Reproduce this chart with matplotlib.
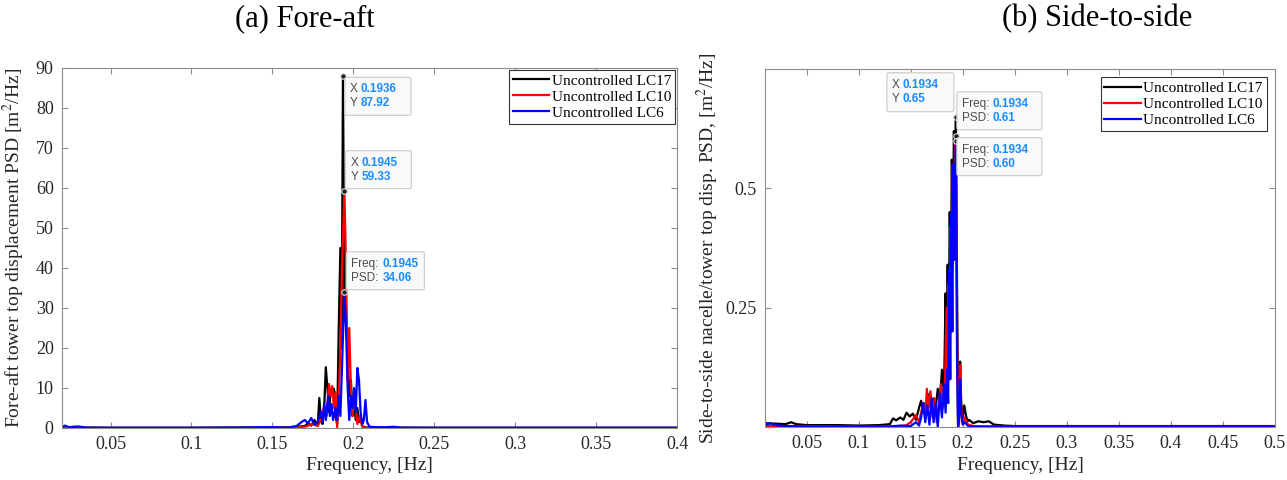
import matplotlib.pyplot as plt
from matplotlib.patches import FancyBboxPatch
from matplotlib.transforms import IdentityTransform

plt.rcParams['font.family'] = ['Liberation Serif', 'DejaVu Serif']
plt.rcParams['mathtext.fontset'] = 'stix'

# ---- (a) fore-aft tower top displacement PSD ----
fa_f17 = [0.020, 0.025, 0.030, 0.050, 0.100, 0.150, 0.160, 0.165, 0.170, 0.172, 0.174,
          0.176, 0.178, 0.179, 0.180, 0.181, 0.182, 0.183, 0.184, 0.185, 0.186, 0.187,
          0.188, 0.189, 0.190, 0.191, 0.192, 0.1928, 0.1936, 0.1945, 0.1955, 0.1965,
          0.1975, 0.1985, 0.1995, 0.2005, 0.2015, 0.2025, 0.2035, 0.2045, 0.2055, 0.2065,
          0.208, 0.210, 0.220, 0.250, 0.300, 0.350, 0.400]
fa_p17 = [0.2, 0.1, 0.1, 0.05, 0.05, 0.1, 0.2, 0.3, 0.5, 1.2, 0.6,
          2.0, 0.5, 7.5, 2.0, 1.0, 5.0, 15.2, 10.0, 4.0, 9.5, 9.0,
          9.8, 3.0, 1.0, 25.0, 45.0, 20.0, 87.92, 32.0, 30.0, 18.0,
          8.0, 12.0, 3.0, 6.0, 2.0, 5.0, 1.5, 3.0, 0.5, 0.3,
          0.1, 0.05, 0.05, 0.05, 0.05, 0.05, 0.05]

fa_f10 = [0.020, 0.050, 0.100, 0.150, 0.170, 0.175, 0.178, 0.180, 0.182, 0.1835, 0.185,
          0.186, 0.187, 0.188, 0.189, 0.190, 0.191, 0.192, 0.193, 0.1945, 0.1955, 0.1965,
          0.1975, 0.1985, 0.1995, 0.2005, 0.2015, 0.2025, 0.204, 0.2055, 0.207, 0.220,
          0.300, 0.400]
fa_p10 = [0.05, 0.05, 0.05, 0.05, 0.3, 1.0, 0.5, 2.0, 5.5, 3.0, 11.0,
          8.0, 10.5, 5.0, 9.0, 0.2, 8.0, 20.0, 40.0, 59.33, 40.0, 12.0,
          25.0, 10.0, 3.0, 8.0, 5.0, 1.0, 3.0, 0.3, 0.1, 0.05,
          0.05, 0.05]

fa_f6 = [0.020, 0.022, 0.024, 0.027, 0.030, 0.035, 0.050, 0.100, 0.150, 0.160, 0.165,
         0.168, 0.170, 0.172, 0.174, 0.176, 0.178, 0.180, 0.181, 0.182, 0.183, 0.1845,
         0.1855, 0.1865, 0.1875, 0.189, 0.190, 0.191, 0.192, 0.193, 0.1945, 0.1955,
         0.1965, 0.1975, 0.1985, 0.1995, 0.2005, 0.2015, 0.2025, 0.2035, 0.2045, 0.2055,
         0.2065, 0.2075, 0.2085, 0.210, 0.215, 0.220, 0.225, 0.230, 0.250, 0.400]
fa_p6 = [0.3, 0.6, 0.2, 0.3, 0.4, 0.1, 0.05, 0.05, 0.2, 0.1, 0.5,
         1.5, 2.0, 1.2, 2.5, 0.8, 1.5, 4.0, 1.5, 6.0, 2.0, 8.0,
         3.0, 6.0, 2.0, 5.0, 2.0, 8.0, 3.0, 15.0, 34.06, 25.0,
         10.0, 2.0, 8.0, 5.0, 10.0, 4.0, 15.0, 12.0, 4.0, 1.0,
         2.0, 7.0, 1.5, 0.3, 0.2, 0.2, 0.3, 0.1, 0.05, 0.05]

# ---- (b) side-to-side nacelle/tower top displacement PSD ----
ss_f17 = [0.010, 0.020, 0.030, 0.035, 0.040, 0.050, 0.080, 0.100, 0.120, 0.130, 0.133,
          0.136, 0.140, 0.143, 0.146, 0.149, 0.152, 0.155, 0.158, 0.160, 0.162, 0.164,
          0.166, 0.168, 0.170, 0.172, 0.174, 0.176, 0.178, 0.180, 0.182, 0.1835, 0.1845,
          0.1855, 0.1865, 0.1875, 0.1885, 0.1895, 0.1905, 0.1915, 0.1925, 0.1934, 0.1945,
          0.1955, 0.1965, 0.1975, 0.1985, 0.200, 0.2015, 0.203, 0.2045, 0.206, 0.210,
          0.215, 0.220, 0.225, 0.230, 0.240, 0.250, 0.300, 0.400, 0.500]
ss_p17 = [0.008, 0.007, 0.006, 0.010, 0.006, 0.004, 0.004, 0.003, 0.004, 0.006, 0.018,
          0.014, 0.020, 0.015, 0.030, 0.022, 0.028, 0.015, 0.040, 0.055, 0.030, 0.050,
          0.040, 0.070, 0.030, 0.060, 0.040, 0.080, 0.050, 0.120, 0.070, 0.280, 0.150,
          0.340, 0.200, 0.450, 0.300, 0.560, 0.400, 0.620, 0.500, 0.650, 0.300,
          0.010, 0.020, 0.137, 0.050, 0.020, 0.045, 0.025, 0.012, 0.015, 0.008,
          0.012, 0.010, 0.012, 0.005, 0.003, 0.002, 0.002, 0.002, 0.002]

ss_f10 = [0.010, 0.050, 0.100, 0.130, 0.140, 0.145, 0.150, 0.155, 0.158, 0.160, 0.162,
          0.164, 0.1655, 0.167, 0.169, 0.171, 0.173, 0.175, 0.177, 0.179, 0.181, 0.183,
          0.1845, 0.1855, 0.1865, 0.1875, 0.1885, 0.1895, 0.1905, 0.1915, 0.1925, 0.1934,
          0.1945, 0.1955, 0.1965, 0.1975, 0.1985, 0.200, 0.202, 0.205, 0.210, 0.220,
          0.250, 0.500]
ss_p10 = [0.002, 0.002, 0.001, 0.001, 0.002, 0.003, 0.010, 0.025, 0.010, 0.030, 0.050,
          0.020, 0.080, 0.040, 0.075, 0.020, 0.060, 0.010, 0.050, 0.090, 0.040, 0.100,
          0.250, 0.120, 0.300, 0.180, 0.420, 0.250, 0.550, 0.350, 0.580, 0.610,
          0.200, 0.000, 0.010, 0.130, 0.040, 0.010, 0.020, 0.005, 0.002, 0.001,
          0.001, 0.001]

ss_f6 = [0.010, 0.012, 0.015, 0.020, 0.030, 0.050, 0.100, 0.130, 0.140, 0.150, 0.155,
         0.158, 0.160, 0.162, 0.164, 0.166, 0.168, 0.170, 0.172, 0.174, 0.176, 0.178,
         0.180, 0.182, 0.1835, 0.185, 0.186, 0.187, 0.188, 0.189, 0.190, 0.191, 0.192,
         0.1934, 0.1945, 0.1955, 0.1965, 0.1975, 0.1985, 0.200, 0.202, 0.205, 0.210,
         0.220, 0.250, 0.500]
ss_p6 = [0.010, 0.005, 0.008, 0.004, 0.002, 0.001, 0.001, 0.001, 0.003, 0.002, 0.010,
         0.003, 0.020, 0.050, 0.010, 0.045, 0.005, 0.060, 0.010, 0.050, 0.000, 0.070,
         0.020, 0.090, 0.030, 0.120, 0.050, 0.330, 0.100, 0.450, 0.200, 0.550, 0.350,
         0.600, 0.150, 0.000, 0.020, 0.100, 0.030, 0.005, 0.010, 0.002, 0.001,
         0.001, 0.001, 0.001]

labels = ['Uncontrolled LC17', 'Uncontrolled LC10', 'Uncontrolled LC6']
colors = ['black', 'red', 'blue']

TIP_BLUE = '#1a8cff'
TIP_GRAY = '#4d4d4d'


def datatip(fig, ax, x, y, names, values, box):
    # box = (dx, dy, w, h) in pixels relative to the marked point, lower-left corner
    px, py = ax.transData.transform((x, y))
    dx, dy, w, h = box
    patch = FancyBboxPatch((px + dx, py + dy), w, h, boxstyle='round,pad=0,rounding_size=2',
                           fc='#f9f9f9', ec='#cfcfcf', lw=0.9, transform=IdentityTransform(),
                           zorder=6, clip_on=False)
    fig.patches.append(patch)
    lab_w = 11 if names[0] == 'X' else 31
    for i, (n, v) in enumerate(zip(names, values)):
        ty = py + dy + h - 12 - i * 14
        fig.text(px + dx + 5, ty, n, transform=IdentityTransform(), fontsize=8.5,
                 family='Liberation Sans', color=TIP_GRAY, va='center', ha='left', zorder=7)
        fig.text(px + dx + 5 + lab_w, ty, v, transform=IdentityTransform(), fontsize=8.5,
                 family='Liberation Sans', color=TIP_BLUE, weight='bold', va='center',
                 ha='left', zorder=7)
    ax.plot([x], [y], 'o', ms=4, mfc='#222222', mec='#e0e0e0', mew=0.8, zorder=8,
            clip_on=False)


def style_axes(ax):
    for s in ax.spines.values():
        s.set_color('#8c8c8c')
        s.set_linewidth(0.8)
    ax.tick_params(direction='in', top=True, right=True, length=4, width=0.8,
                   color='#8c8c8c', labelsize=13, labelcolor='#262626', pad=6)


fig = plt.figure(figsize=(12.87, 4.8), dpi=100)
ax1 = fig.add_axes([62 / 1287, 52 / 480, 615 / 1287, 360 / 480])
ax2 = fig.add_axes([765 / 1287, 53 / 480, 510 / 1287, 358 / 480])

for f, p, c, lab in zip([fa_f17, fa_f10, fa_f6], [fa_p17, fa_p10, fa_p6], colors, labels):
    ax1.plot(f, p, color=c, lw=1.6, label=lab)
ax1.set_xlim(0.02, 0.4)
ax1.set_ylim(0, 90)
ax1.set_xticks([0.05, 0.1, 0.15, 0.2, 0.25, 0.3, 0.35, 0.4])
ax1.set_xticklabels(['0.05', '0.1', '0.15', '0.2', '0.25', '0.3', '0.35', '0.4'])
ax1.set_yticks(range(0, 91, 10))
ax1.set_xlabel('Frequency, [Hz]', fontsize=14, color='#262626', labelpad=3)
ax1.set_ylabel('Fore-aft tower top displacement PSD [m$^2$/Hz]', fontsize=14,
               color='#262626', labelpad=6)
style_axes(ax1)
ax1.legend(loc='upper right', fontsize=11, frameon=True, fancybox=False, edgecolor='#333333',
           borderaxespad=0.15, borderpad=0.25, labelspacing=0.15, handlelength=2.4,
           handletextpad=0.15, framealpha=1).get_frame().set_linewidth(0.8)

for f, p, c, lab in zip([ss_f17, ss_f10, ss_f6], [ss_p17, ss_p10, ss_p6], colors, labels):
    ax2.plot(f, p, color=c, lw=1.6, label=lab)
ax2.set_xlim(0.01, 0.5)
ax2.set_ylim(0, 0.75)
ax2.set_xticks([0.05, 0.1, 0.15, 0.2, 0.25, 0.3, 0.35, 0.4, 0.45, 0.5])
ax2.set_xticklabels(['0.05', '0.1', '0.15', '0.2', '0.25', '0.3', '0.35', '0.4', '0.45', '0.5'])
ax2.set_yticks([0.25, 0.5])
ax2.set_yticklabels(['0.25', '0.5'])
ax2.set_xlabel('Frequency, [Hz]', fontsize=14, color='#262626', labelpad=3)
ax2.set_ylabel('Side-to-side nacelle/tower top disp. PSD, [m$^2$/Hz]', fontsize=14,
               color='#262626', labelpad=3)
style_axes(ax2)
ax2.legend(loc='upper right', fontsize=11, frameon=True, fancybox=False, edgecolor='#333333',
           borderaxespad=0.55, borderpad=0.25, labelspacing=0.15, handlelength=2.4,
           handletextpad=0.15, framealpha=1).get_frame().set_linewidth(0.8)

fig.text(305 / 1287, 1 - 19 / 480, '(a) Fore-aft', ha='center', va='center', fontsize=22)
fig.text(1097 / 1287, 1 - 19 / 480, '(b) Side-to-side', ha='center', va='center', fontsize=22)

# data tips (pixel offsets from the marked point: dx, dy, width, height)
datatip(fig, ax1, 0.1936, 87.92, ['X', 'Y'], ['0.1936', '87.92'], (2, -39, 66, 38))
datatip(fig, ax1, 0.1945, 59.33, ['X', 'Y'], ['0.1945', '59.33'], (1, 2, 66, 38))
datatip(fig, ax1, 0.1945, 34.06, ['Freq:', 'PSD:'], ['0.1945', '34.06'], (2, 2, 78, 38))
datatip(fig, ax2, 0.1934, 0.65, ['X', 'Y'], ['0.1934', '0.65'], (-69, 5, 67, 39))
datatip(fig, ax2, 0.1934, 0.61, ['Freq:', 'PSD:'], ['0.1934', '0.61'], (1, 6, 85, 38))
datatip(fig, ax2, 0.1934, 0.60, ['Freq:', 'PSD:'], ['0.1934', '0.60'], (1, -35, 85, 38))

fig.savefig('out.png', dpi=100)
